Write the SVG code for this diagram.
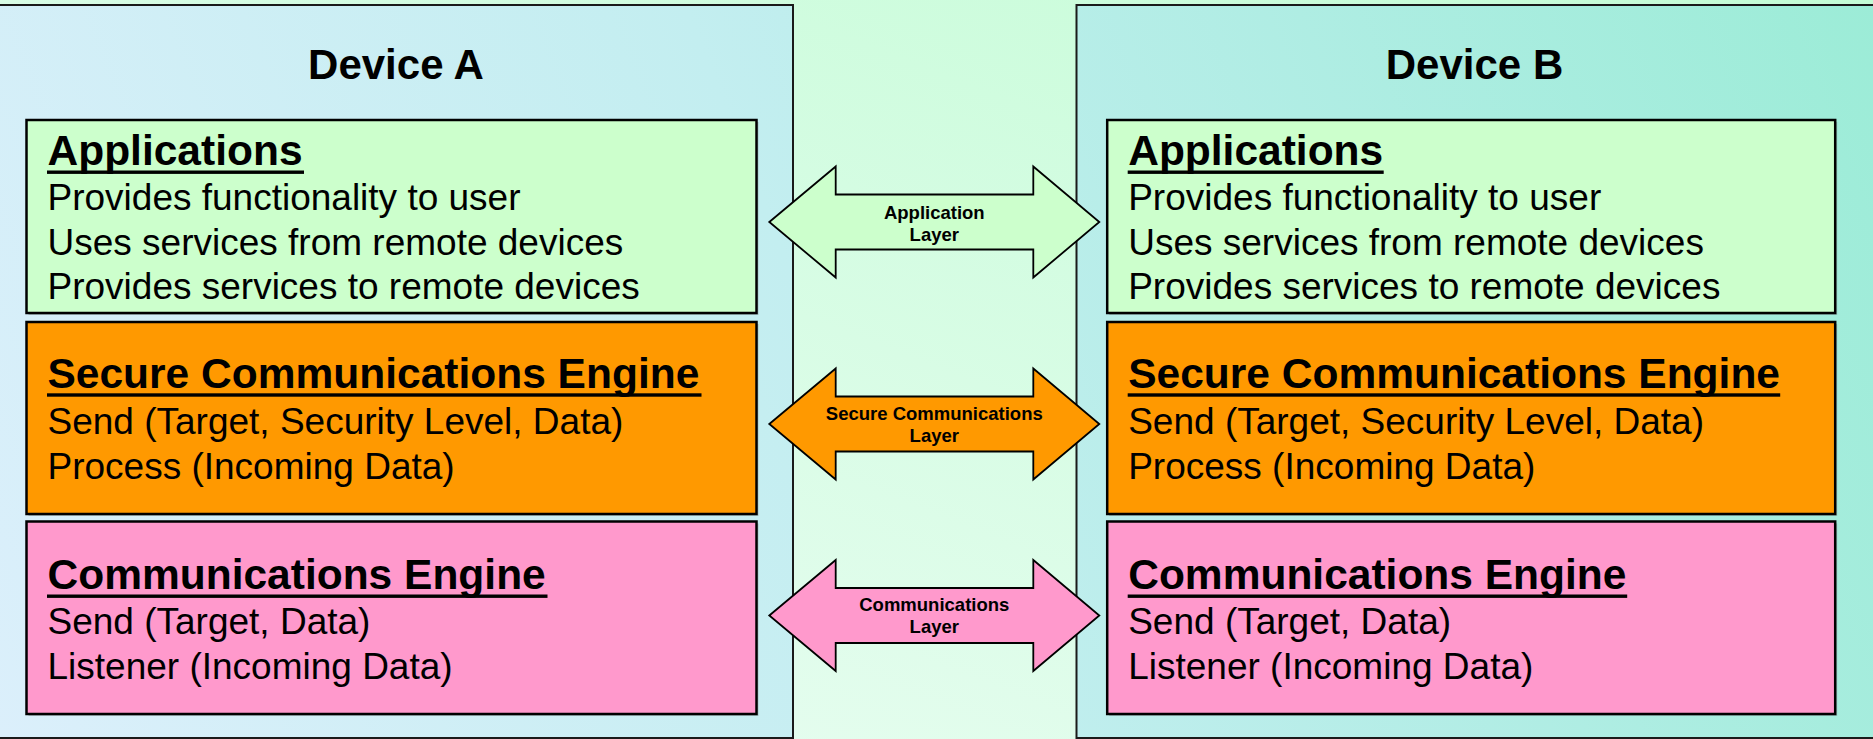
<svg xmlns="http://www.w3.org/2000/svg" width="1873" height="739" viewBox="0 0 1873 739">
  <defs>
    <!-- slide background: pale green, lighter toward the bottom -->
    <linearGradient id="bgGrad" x1="0" y1="1" x2="1" y2="0">
      <stop offset="0" stop-color="#ecfdf4"/>
      <stop offset="1" stop-color="#c4fcd6"/>
    </linearGradient>
    <!-- device panels: light blue at bottom-left, aqua at top-right -->
    <linearGradient id="panelGrad" gradientUnits="userSpaceOnUse" x1="0" y1="739" x2="1873" y2="0">
      <stop offset="0" stop-color="#dbeffb"/>
      <stop offset="0.45" stop-color="#c3eef0"/>
      <stop offset="1" stop-color="#9cecd7"/>
    </linearGradient>
    <style>
      .panel { fill: url(#panelGrad); stroke: #1a1a1a; stroke-width: 2; }
      .box { stroke: #000; stroke-width: 2.5; }
      .shadow { fill: #7f8f8f; opacity: 0.45; }
      .app { fill: #ccffcc; }
      .sec { fill: #ff9900; }
      .com { fill: #ff99cc; }
      .arrow { stroke: #000; stroke-width: 1.8; stroke-linejoin: miter; }
      .heading { font-family: "Liberation Sans", Arial, sans-serif; font-weight: bold; font-size: 42px; fill: #000; text-anchor: middle; }
      .title { font-family: "Liberation Sans", Arial, sans-serif; font-weight: bold; font-size: 42.5px; fill: #000; }
      .body { font-family: "Liberation Sans", Arial, sans-serif; font-size: 37px; fill: #000; }
      .label { font-family: "Liberation Sans", Arial, sans-serif; font-weight: bold; font-size: 18.5px; fill: #000; text-anchor: middle; }
      .ul { fill: #000; }
    </style>
  </defs>

  <rect x="0" y="0" width="1873" height="739" fill="url(#bgGrad)"/>

  <!-- Device A -->
  <g id="device-a">
    <rect x="-2" y="5" width="795" height="733" class="panel"/>
    <text x="396" y="79" class="heading">Device A</text>
  </g>

  <!-- Device B -->
  <g id="device-b">
    <rect x="1076.5" y="5" width="800" height="733" class="panel"/>
    <text x="1474.5" y="79" class="heading">Device B</text>
  </g>

  <!-- Device A layers -->
  <g id="a-applications">
    <rect x="28.5" y="122" width="730" height="193" class="shadow"/>
    <rect x="26.5" y="120" width="730" height="193" class="box app"/>
    <text x="47.5" y="165" class="title">Applications</text>
    <rect x="47" y="170.5" width="257" height="3.4" class="ul"/>
    <text x="47.5" y="210" class="body">Provides functionality to user</text>
    <text x="47.5" y="254.5" class="body">Uses services from remote devices</text>
    <text x="47.5" y="299" class="body">Provides services to remote devices</text>
  </g>
  <g id="a-secure-engine">
    <rect x="28.5" y="324" width="730" height="192" class="shadow"/>
    <rect x="26.5" y="322" width="730" height="192" class="box sec"/>
    <text x="47.5" y="388" class="title">Secure Communications Engine</text>
    <rect x="47" y="393.3" width="654.5" height="3.4" class="ul"/>
    <text x="47.5" y="433.5" class="body">Send (Target, Security Level, Data)</text>
    <text x="47.5" y="478.5" class="body">Process (Incoming Data)</text>
  </g>
  <g id="a-comm-engine">
    <rect x="28.5" y="523.5" width="730" height="192.5" class="shadow"/>
    <rect x="26.5" y="521.5" width="730" height="192.5" class="box com"/>
    <text x="47.5" y="589" class="title">Communications Engine</text>
    <rect x="47" y="594.5" width="500.5" height="3.4" class="ul"/>
    <text x="47.5" y="634" class="body">Send (Target, Data)</text>
    <text x="47.5" y="678.5" class="body">Listener (Incoming Data)</text>
  </g>

  <!-- Device B layers -->
  <g id="b-applications">
    <rect x="1109.2" y="122" width="728" height="193" class="shadow"/>
    <rect x="1107.2" y="120" width="728" height="193" class="box app"/>
    <text x="1128.2" y="165" class="title">Applications</text>
    <rect x="1127.7" y="170.5" width="256" height="3.4" class="ul"/>
    <text x="1128.2" y="210" class="body">Provides functionality to user</text>
    <text x="1128.2" y="254.5" class="body">Uses services from remote devices</text>
    <text x="1128.2" y="299" class="body">Provides services to remote devices</text>
  </g>
  <g id="b-secure-engine">
    <rect x="1109.2" y="324" width="728" height="192" class="shadow"/>
    <rect x="1107.2" y="322" width="728" height="192" class="box sec"/>
    <text x="1128.2" y="388" class="title">Secure Communications Engine</text>
    <rect x="1127.7" y="393.3" width="652.5" height="3.4" class="ul"/>
    <text x="1128.2" y="433.5" class="body">Send (Target, Security Level, Data)</text>
    <text x="1128.2" y="478.5" class="body">Process (Incoming Data)</text>
  </g>
  <g id="b-comm-engine">
    <rect x="1109.2" y="523.5" width="728" height="192.5" class="shadow"/>
    <rect x="1107.2" y="521.5" width="728" height="192.5" class="box com"/>
    <text x="1128.2" y="589" class="title">Communications Engine</text>
    <rect x="1127.7" y="594.5" width="499.5" height="3.4" class="ul"/>
    <text x="1128.2" y="634" class="body">Send (Target, Data)</text>
    <text x="1128.2" y="678.5" class="body">Listener (Incoming Data)</text>
  </g>

  <!-- peer-to-peer layer connectors (double-headed block arrows) -->
  <g id="connectors">
    <g id="application-layer">
      <path class="arrow app" d="M769.3,222 L835.7,166.5 L835.7,194.5 L1033.3,194.5 L1033.3,166.5 L1099.3,222 L1033.3,277.5 L1033.3,249.5 L835.7,249.5 L835.7,277.5 Z"/>
      <text x="934.3" y="218.5" class="label">Application</text>
      <text x="934.3" y="240.5" class="label">Layer</text>
    </g>
    <g id="secure-layer">
      <path class="arrow sec" d="M769.3,424 L835.7,368.5 L835.7,396.5 L1033.3,396.5 L1033.3,368.5 L1099.3,424 L1033.3,479.5 L1033.3,451.5 L835.7,451.5 L835.7,479.5 Z"/>
      <text x="934.3" y="419.5" class="label">Secure Communications</text>
      <text x="934.3" y="442" class="label">Layer</text>
    </g>
    <g id="communications-layer">
      <path class="arrow com" d="M769.3,615.5 L835.7,560 L835.7,588 L1033.3,588 L1033.3,560 L1099.3,615.5 L1033.3,671 L1033.3,643 L835.7,643 L835.7,671 Z"/>
      <text x="934.3" y="611" class="label">Communications</text>
      <text x="934.3" y="633" class="label">Layer</text>
    </g>
  </g>
</svg>
